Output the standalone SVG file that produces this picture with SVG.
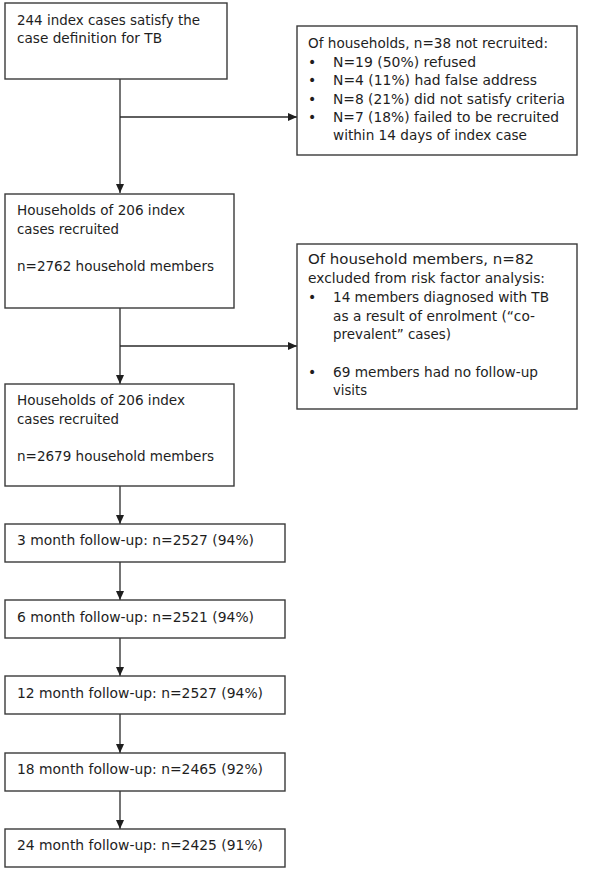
<svg xmlns="http://www.w3.org/2000/svg" width="591" height="887" viewBox="0 0 591 887">
<defs>
<style>
.box{fill:#fff;stroke:#3a3a3a;stroke-width:1.4}
.ln{fill:none;stroke:#2a2a2a;stroke-width:1.3}
text{font-family:"DejaVu Sans","Liberation Sans",sans-serif;font-size:14px;fill:#1e1e1e}
</style>
<marker id="ah" markerWidth="9" markerHeight="8" refX="9" refY="4" orient="auto" markerUnits="userSpaceOnUse">
<path d="M0,0 L9,4 L0,8 Z" fill="#1e1e1e"/>
</marker>
</defs>
<rect width="591" height="887" fill="#fff"/>
<g id="connectors">
<path class="ln" d="M120,79 V193" marker-end="url(#ah)"/>
<path class="ln" d="M120,117 H297" marker-end="url(#ah)"/>
<path class="ln" d="M120,308 V384" marker-end="url(#ah)"/>
<path class="ln" d="M120,346 H297" marker-end="url(#ah)"/>
<path class="ln" d="M120,486 V524" marker-end="url(#ah)"/>
<path class="ln" d="M120,562 V600" marker-end="url(#ah)"/>
<path class="ln" d="M120,638 V676" marker-end="url(#ah)"/>
<path class="ln" d="M120,714 V753" marker-end="url(#ah)"/>
<path class="ln" d="M120,791 V829" marker-end="url(#ah)"/>
</g>
<g id="n1">
<rect class="box" x="5" y="3" width="222" height="76"/>
<text x="17" y="25" textLength="183" lengthAdjust="spacingAndGlyphs">244 index cases satisfy the</text>
<text x="17" y="43" textLength="145" lengthAdjust="spacingAndGlyphs">case definition for TB</text>
</g>
<g id="n2">
<rect class="box" x="297" y="26" width="280" height="129"/>
<text x="308" y="48" textLength="240" lengthAdjust="spacingAndGlyphs">Of households, n=38 not recruited:</text>
<text x="308" y="67">•</text>
<text x="333" y="67" textLength="143" lengthAdjust="spacingAndGlyphs">N=19 (50%) refused</text>
<text x="308" y="85">•</text>
<text x="333" y="85" textLength="204" lengthAdjust="spacingAndGlyphs">N=4 (11%) had false address</text>
<text x="308" y="103.5">•</text>
<text x="333" y="103.5" textLength="232" lengthAdjust="spacingAndGlyphs">N=8 (21%) did not satisfy criteria</text>
<text x="308" y="122">•</text>
<text x="333" y="122" textLength="226" lengthAdjust="spacingAndGlyphs">N=7 (18%) failed to be recruited</text>
<text x="333" y="140" textLength="194" lengthAdjust="spacingAndGlyphs">within 14 days of index case</text>
</g>
<g id="n3">
<rect class="box" x="5" y="194" width="229" height="114"/>
<text x="17" y="215" textLength="168" lengthAdjust="spacingAndGlyphs">Households of 206 index</text>
<text x="17" y="233.5" textLength="102" lengthAdjust="spacingAndGlyphs">cases recruited</text>
<text x="17" y="271" textLength="197" lengthAdjust="spacingAndGlyphs">n=2762 household members</text>
</g>
<g id="n4">
<rect class="box" x="297" y="244" width="280" height="165"/>
<text x="308" y="264" textLength="226" lengthAdjust="spacingAndGlyphs">Of household members, n=82</text>
<text x="308" y="283" textLength="237" lengthAdjust="spacingAndGlyphs">excluded from risk factor analysis:</text>
<text x="308" y="302">•</text>
<text x="333" y="302" textLength="216" lengthAdjust="spacingAndGlyphs">14 members diagnosed with TB</text>
<text x="333" y="320.5" textLength="202" lengthAdjust="spacingAndGlyphs">as a result of enrolment (“co-</text>
<text x="333" y="339" textLength="118" lengthAdjust="spacingAndGlyphs">prevalent” cases)</text>
<text x="308" y="377">•</text>
<text x="333" y="377" textLength="205" lengthAdjust="spacingAndGlyphs">69 members had no follow-up</text>
<text x="333" y="395" textLength="34" lengthAdjust="spacingAndGlyphs">visits</text>
</g>
<g id="n5">
<rect class="box" x="5" y="384" width="229" height="102"/>
<text x="17" y="405" textLength="168" lengthAdjust="spacingAndGlyphs">Households of 206 index</text>
<text x="17" y="424" textLength="102" lengthAdjust="spacingAndGlyphs">cases recruited</text>
<text x="17" y="461" textLength="197" lengthAdjust="spacingAndGlyphs">n=2679 household members</text>
</g>
<g id="n6">
<rect class="box" x="5" y="524" width="280" height="38"/>
<text x="17" y="545" textLength="237" lengthAdjust="spacingAndGlyphs">3 month follow-up: n=2527 (94%)</text>
</g>
<g id="n7">
<rect class="box" x="5" y="600" width="280" height="38"/>
<text x="17" y="622" textLength="237" lengthAdjust="spacingAndGlyphs">6 month follow-up: n=2521 (94%)</text>
</g>
<g id="n8">
<rect class="box" x="5" y="676" width="280" height="38"/>
<text x="17" y="698" textLength="246" lengthAdjust="spacingAndGlyphs">12 month follow-up: n=2527 (94%)</text>
</g>
<g id="n9">
<rect class="box" x="5" y="753" width="280" height="38"/>
<text x="17" y="774" textLength="246" lengthAdjust="spacingAndGlyphs">18 month follow-up: n=2465 (92%)</text>
</g>
<g id="n10">
<rect class="box" x="5" y="829" width="280" height="38"/>
<text x="17" y="850" textLength="246" lengthAdjust="spacingAndGlyphs">24 month follow-up: n=2425 (91%)</text>
</g>
</svg>
